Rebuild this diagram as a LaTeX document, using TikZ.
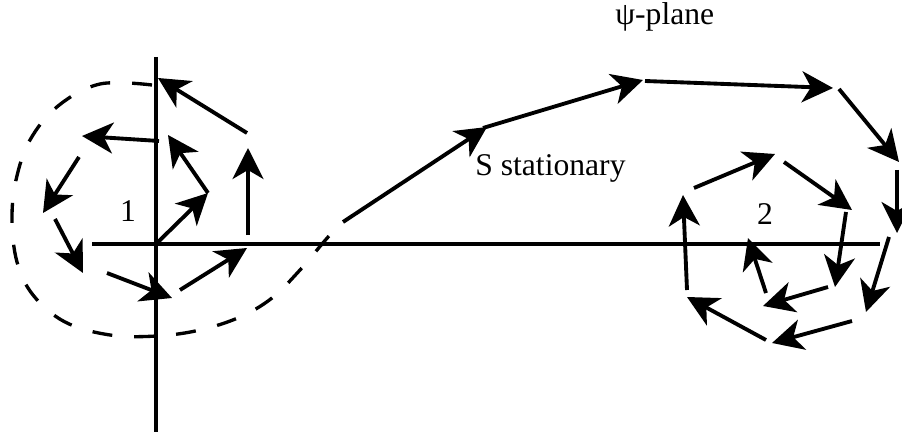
\documentclass[tikz,border=0pt]{standalone}
\usepackage{fontspec}
\setmainfont{Liberation Serif}
\usetikzlibrary{arrows.meta}
\begin{document}
\begin{tikzpicture}[x=0.02cm,y=-0.02cm,
  axisline/.style={line width=1.9pt},
  vec/.style={line width=2.2pt,-{Stealth[length=0.62cm,width=0.62cm,inset=0.18cm]}},
  dashcurve/.style={line width=1.9pt,dash pattern=on 0.4cm off 0.44cm},
  lbl/.style={font=\fontsize{18}{21}\selectfont,inner sep=0pt}]
\useasboundingbox (0,0) rectangle (902,432);
% axes
\coordinate (vtop) at (156,57);
\coordinate (vbot) at (156,432);
\coordinate (hl) at (92,244);
\coordinate (hr) at (880,244);
\draw[axisline] (vtop) -- (vbot);
\draw[axisline] (hl) -- (hr);
% dashed curve
\draw[dashcurve] plot[smooth,tension=0.6] coordinates {(152,85) (100,84) (58,106) (30,140) (16,180) (12,220) (17,262) (33,295) (65,322) (110,335) (157,336) (200,330) (240,317) (272,298) (300,270) (322,244) (336,228)};
% left spiral
\coordinate (a0) at (156,244);
\coordinate (a1) at (208,193);
\coordinate (a2) at (168,135);
\coordinate (a3s) at (159,141);
\coordinate (a3) at (82,136);
\coordinate (a4s) at (79,157);
\coordinate (a4) at (43,213);
\coordinate (a5s) at (55,219);
\coordinate (a5) at (83,273);
\coordinate (a6s) at (107,273);
\coordinate (a6) at (172,298);
\coordinate (a7s) at (180,290);
\coordinate (a7) at (247,248);
\coordinate (a8s) at (248,235);
\coordinate (a8) at (248,148);
\coordinate (a9s) at (247,133);
\coordinate (a9) at (158,78);
\draw[vec] (a0) -- (a1);
\draw[vec] (a1) -- (a2);
\draw[vec] (a3s) -- (a3);
\draw[vec] (a4s) -- (a4);
\draw[vec] (a5s) -- (a5);
\draw[vec] (a6s) -- (a6);
\draw[vec] (a7s) -- (a7);
\draw[vec] (a8s) -- (a8);
\draw[vec] (a9s) -- (a9);
% outer path
\coordinate (t1s) at (343,222);
\coordinate (t1) at (487,127);
\coordinate (t2s) at (483,128);
\coordinate (t2) at (643,80);
\coordinate (t3s) at (645,81);
\coordinate (t3) at (833,88);
\coordinate (t4s) at (839,89);
\coordinate (t4) at (899,162);
\draw[vec] (t1s) -- (t1);
\draw[vec] (t2s) -- (t2);
\draw[vec] (t3s) -- (t3);
\draw[vec] (t4s) -- (t4);
% right spiral
\coordinate (b1s) at (897,170);
\coordinate (b1) at (897,233);
\coordinate (b2s) at (889,237);
\coordinate (b2) at (866,312);
\coordinate (b3s) at (852,321);
\coordinate (b3) at (772,343);
\coordinate (b4s) at (766,340);
\coordinate (b4) at (687,297);
\coordinate (b5s) at (687,290);
\coordinate (b5) at (683,195);
\coordinate (b6s) at (694,188);
\coordinate (b6) at (775,154);
\coordinate (b7s) at (784,162);
\coordinate (b7) at (852,210);
\coordinate (b8s) at (846,212);
\coordinate (b8) at (835,287);
\coordinate (b9s) at (828,287);
\coordinate (b9) at (763,306);
\coordinate (b10s) at (766,293);
\coordinate (b10) at (748,238);
\draw[vec] (b1s) -- (b1);
\draw[vec] (b2s) -- (b2);
\draw[vec] (b3s) -- (b3);
\draw[vec] (b4s) -- (b4);
\draw[vec] (b5s) -- (b5);
\draw[vec] (b6s) -- (b6);
\draw[vec] (b7s) -- (b7);
\draw[vec] (b8s) -- (b8);
\draw[vec] (b9s) -- (b9);
\draw[vec] (b10s) -- (b10);
% labels
\node[lbl,anchor=base west] (psi) at (615,25) {ψ-plane};
\node[lbl,anchor=base west] (stat) at (475,175) {S stationary};
\node[lbl] (one) at (128,211) {1};
\node[lbl] (two) at (765,214) {2};
\end{tikzpicture}
\end{document}
